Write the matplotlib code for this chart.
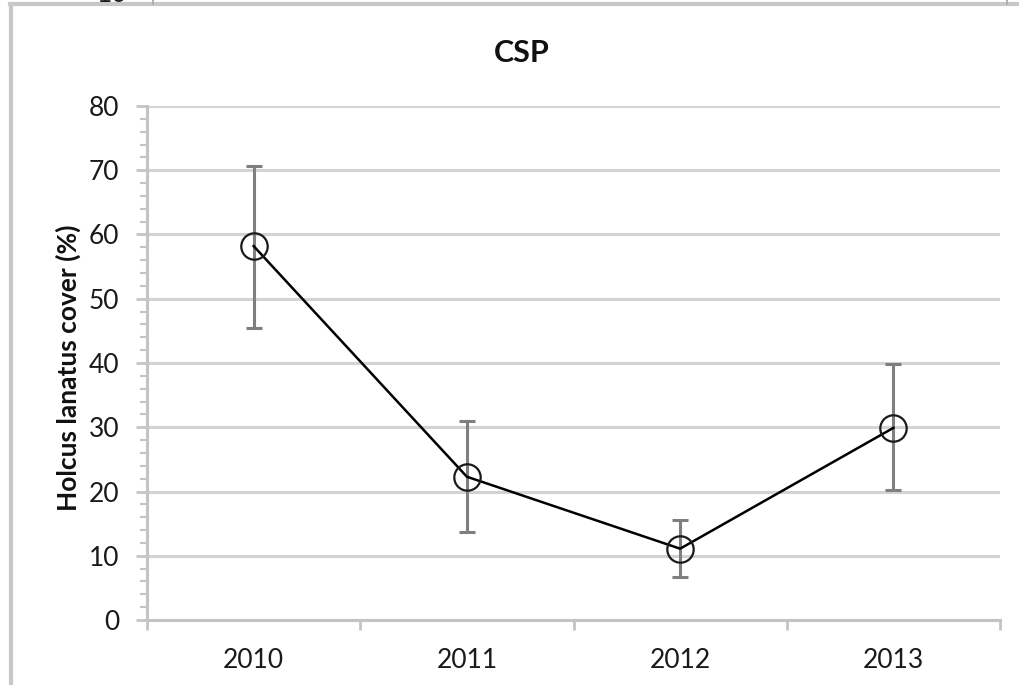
import matplotlib
matplotlib.use("Agg")
import matplotlib.pyplot as plt
from matplotlib.lines import Line2D
from matplotlib.ticker import MultipleLocator, FixedLocator

years = ["2010", "2011", "2012", "2013"]
cover = [58.2, 22.3, 11.1, 29.9]
err_low = [12.7, 8.6, 4.4, 9.7]
err_high = [12.5, 8.7, 4.5, 9.9]
y_ticks = [0, 10, 20, 30, 40, 50, 60, 70, 80]

plt.rcParams["font.family"] = ["Lato", "DejaVu Sans"]

W, H = 1019, 685
fig = plt.figure(figsize=(W / 100, H / 100), dpi=100)
ax = fig.add_axes([147 / W, 1 - 620 / H, (1000 - 147) / W, (620 - 106) / H])

x = list(range(len(years)))
ax.errorbar(x, cover, yerr=[err_low, err_high], fmt="none", ecolor="#7f7f7f",
            elinewidth=2.2, capsize=6, capthick=2.2, zorder=2)
ax.plot(x, cover, color="black", lw=1.8, zorder=3)
ax.plot(x, cover, ls="none", marker="o", ms=19, mfc="none", mec="#1a1a1a",
        mew=1.6, zorder=4)

ax.set_xlim(-0.5, len(years) - 0.5)
ax.set_ylim(0, 80)
ax.set_yticks(y_ticks)
ax.yaxis.set_minor_locator(MultipleLocator(2))
ax.grid(axis="y", which="major", color="#d3d3d3", lw=2.2, zorder=0)
ax.set_axisbelow(True)

ax.set_xticks(x)
ax.set_xticklabels(years)
ax.xaxis.set_minor_locator(FixedLocator([i - 0.5 for i in range(len(years) + 1)]))
ax.tick_params(axis="x", which="major", length=0, pad=20, labelsize=19, labelcolor="#1a1a1a")
ax.tick_params(axis="x", which="minor", length=7, width=2, color="#c4c4c4", direction="out")
ax.tick_params(axis="y", which="major", length=8, width=2, color="#c4c4c4", pad=12,
               labelsize=19, labelcolor="#1a1a1a")
ax.tick_params(axis="y", which="minor", length=5, width=1.5, color="#c4c4c4")

for side in ("top", "right"):
    ax.spines[side].set_visible(False)
for side in ("left", "bottom"):
    ax.spines[side].set_color("#c4c4c4")
    ax.spines[side].set_linewidth(2.2)

fig.text(522 / W, 1 - 53 / H, "CSP", fontsize=22, fontweight="bold",
         ha="center", va="center", color="#111111")
fig.text(68 / W, 1 - 368 / H, "Holcus lanatus cover (%)", fontsize=19,
         fontweight="bold", rotation=90, ha="center", va="center", color="#111111")

# surrounding panel border
border = "#c8c8c8"
fig.add_artist(Line2D([10 / W, 1], [1 - 4 / H, 1 - 4 / H], color=border, lw=3,
                      transform=fig.transFigure))
fig.add_artist(Line2D([11 / W, 11 / W], [0, 1 - 4 / H], color=border, lw=3,
                      transform=fig.transFigure))
fig.add_artist(Line2D([153 / W, 153 / W], [1 - 4 / H, 1], color="#b0b0b0", lw=1.5,
                      transform=fig.transFigure))
fig.add_artist(Line2D([1007 / W, 1007 / W], [1 - 4 / H, 1], color="#b0b0b0", lw=1.5,
                      transform=fig.transFigure))
fig.text(112 / W, 1 + 5 / H, "10", fontsize=19, ha="center", va="center", color="#1a1a1a")

fig.savefig("out.png", dpi=100, facecolor="white")
